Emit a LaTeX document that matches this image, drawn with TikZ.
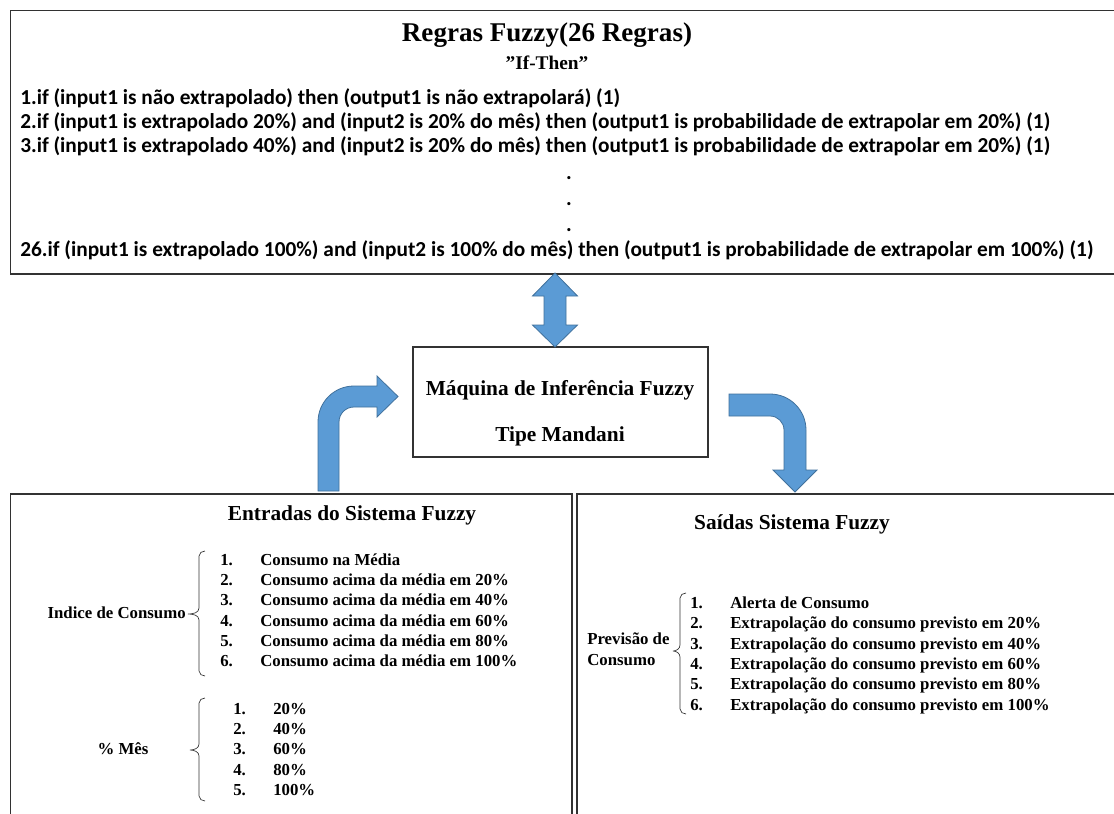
\documentclass[tikz,border=0pt]{standalone}
\usepackage{fontspec}
\setmainfont{Liberation Serif}
\newfontfamily\rulefont{Carlito}
\definecolor{arrowblue}{RGB}{91,155,213}
\definecolor{arrowedge}{RGB}{65,113,156}
\definecolor{boxline}{RGB}{50,50,50}
\begin{document}
\begin{tikzpicture}[x=0.75pt,y=-0.75pt,
  panel/.style={draw=boxline, line width=1.3pt, inner sep=0pt},
  blockarrow/.style={fill=arrowblue, draw=arrowedge, line width=0.6pt},
  rulestyle/.style={font=\rulefont\bfseries\fontsize{16}{19}\selectfont, anchor=west, inner sep=0pt},
  bigtitle/.style={font=\bfseries\fontsize{20.3}{23}\selectfont, inner sep=0pt},
  subtitle/.style={font=\bfseries\fontsize{14.5}{17}\selectfont, inner sep=0pt},
  boxtitle/.style={font=\bfseries\fontsize{16}{19}\selectfont, inner sep=0pt},
  itemstyle/.style={font=\bfseries\fontsize{12.6}{15}\selectfont, anchor=west, inner sep=0pt, text height=9pt, text depth=2.6pt},
  labelstyle/.style={font=\bfseries\fontsize{12.6}{15}\selectfont, inner sep=0pt, text height=9pt, text depth=2.6pt},
  bracestyle/.style={draw=black!80, line width=0.5pt}]
\useasboundingbox (0,0) rectangle (1114,814);
\fill[white] (0,0) rectangle (1114,814);

% panels
\draw[panel] (10.5,10.5) rectangle (1125,274);
\draw[panel] (10.5,494) rectangle (572,830);
\draw[panel] (577,494) rectangle (1125,830);
\node[panel, minimum width=221.25pt, minimum height=82.5pt] (engine) at (560.5,402) {};

% top box text
\node[bigtitle] (rtitle) at (547,35) {Regras Fuzzy(26 Regras)};
\node[subtitle] (ifthen) at (547,63) {”If-Then”};
\node[rulestyle] (r1) at (20,98) {1.if (input1 is não extrapolado) then (output1 is não extrapolará) (1)};
\node[rulestyle] (r2) at (20,122) {2.if (input1 is extrapolado 20\%) and (input2 is 20\% do mês) then (output1 is probabilidade de extrapolar em 20\%) (1)};
\node[rulestyle] (r3) at (20,146) {3.if (input1 is extrapolado 40\%) and (input2 is 20\% do mês) then (output1 is probabilidade de extrapolar em 20\%) (1)};
\node[font=\rulefont\bfseries\fontsize{16}{19}\selectfont, inner sep=0pt] (d1) at (569,178) {.};
\node[font=\rulefont\bfseries\fontsize{16}{19}\selectfont, inner sep=0pt] (d2) at (569,204) {.};
\node[font=\rulefont\bfseries\fontsize{16}{19}\selectfont, inner sep=0pt] (d3) at (569,230) {.};
\node[rulestyle] (r26) at (20,250) {26.if (input1 is extrapolado 100\%) and (input2 is 100\% do mês) then (output1 is probabilidade de extrapolar em 100\%) (1)};

% engine text
\node[boxtitle] (eng1) at (560,390) {Máquina de Inferência Fuzzy};
\node[boxtitle] (eng2) at (560,436) {Tipe Mandani};

% double arrow
\fill[blockarrow] (555,273) -- (577.5,296) -- (566,296) -- (566,325) -- (577.5,325) -- (555,347)
  -- (532.5,325) -- (544,325) -- (544,296) -- (532.5,296) -- cycle;

% left bent arrow
\fill[blockarrow] (318,491) -- (318,422) .. controls (318,402.1) and (334.1,386) .. (354,386)
  -- (377,386) -- (377,376) -- (398,396.5) -- (377,417) -- (377,407) -- (354,407)
  .. controls (345.7,407) and (339,413.7) .. (339,422) -- (339,491) -- cycle;

% right bent arrow
\fill[blockarrow] (729,394) -- (770,394) .. controls (789.9,394) and (806,410.1) .. (806,430)
  -- (806,470) -- (817,470) -- (795,492) -- (773,470) -- (784,470) -- (784,430)
  .. controls (784,422.3) and (777.7,416) .. (770,416) -- (729,416) -- cycle;

% inputs panel
\node[boxtitle] (intitle) at (352,515) {Entradas do Sistema Fuzzy};
\node[labelstyle, anchor=east] (indice) at (186,614) {Indice de Consumo};
\draw[bracestyle] (205,551) to[out=180,in=90] (199,556) -- (199,608) to[out=-90,in=0] (188,614)
  (188,614) to[out=0,in=90] (199,620) -- (199,671) to[out=-90,in=180] (205,676);
\foreach \i/\t in {1/Consumo na Média, 2/Consumo acima da média em 20\%, 3/Consumo acima da média em 40\%,
  4/Consumo acima da média em 60\%, 5/Consumo acima da média em 80\%, 6/Consumo acima da média em 100\%}{
  \node[itemstyle] (inum\i) at (220,{561+20.3*(\i-1)}) {\i.};
  \node[itemstyle] (itxt\i) at (260,{561+20.3*(\i-1)}) {\t};
}
\node[labelstyle] (mes) at (123,750) {\% Mês};
\draw[bracestyle] (205,698) to[out=180,in=90] (199,703) -- (199,744) to[out=-90,in=0] (190,750)
  (190,750) to[out=0,in=90] (199,756) -- (199,796) to[out=-90,in=180] (205,801);
\foreach \i/\t in {1/20\%, 2/40\%, 3/60\%, 4/80\%, 5/100\%}{
  \node[itemstyle] (mnum\i) at (233,{710+20.3*(\i-1)}) {\i.};
  \node[itemstyle] (mtxt\i) at (273,{710+20.3*(\i-1)}) {\t};
}

% outputs panel
\node[boxtitle] (outtitle) at (792,524) {Saídas Sistema Fuzzy};
\node[labelstyle, anchor=west] (prev1) at (587,640) {Previsão de};
\node[labelstyle, anchor=west] (prev2) at (587,661) {Consumo};
\draw[bracestyle] (686,593) to[out=180,in=90] (680,598) -- (680,645) to[out=-90,in=0] (673,651)
  (673,651) to[out=0,in=90] (680,657) -- (680,709) to[out=-90,in=180] (686,714);
\foreach \i/\t in {1/Alerta de Consumo, 2/Extrapolação do consumo previsto em 20\%, 3/Extrapolação do consumo previsto em 40\%,
  4/Extrapolação do consumo previsto em 60\%, 5/Extrapolação do consumo previsto em 80\%, 6/Extrapolação do consumo previsto em 100\%}{
  \node[itemstyle] (onum\i) at (690,{604+20.4*(\i-1)}) {\i.};
  \node[itemstyle] (otxt\i) at (730,{604+20.4*(\i-1)}) {\t};
}
\end{tikzpicture}
\end{document}
